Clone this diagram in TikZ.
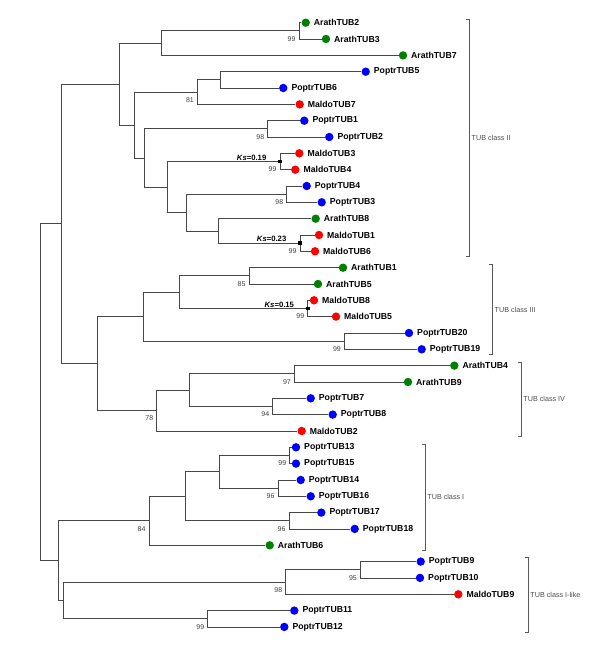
\documentclass[tikz,border=0pt]{standalone}
\usepackage{fontspec}
\setmainfont{Liberation Sans}
\definecolor{ag}{RGB}{0,128,0}
\definecolor{pb}{RGB}{0,0,255}
\definecolor{mr}{RGB}{255,0,0}
\tikzset{
 br/.style={draw=black!72, line width=0.8pt},
 dot/.style={circle, inner sep=0pt, minimum size=8.4pt, draw=none},
 lbl/.style={inner sep=0pt, anchor=west, font=\fontsize{8.7}{10}\selectfont\bfseries},
 bsl/.style={inner sep=0pt, anchor=east, text=black!75, font=\fontsize{7}{8}\selectfont},
 ksl/.style={inner sep=0pt, anchor=east, font=\fontsize{7.7}{9}\selectfont\bfseries},
 sq/.style={fill=black, inner sep=0pt, minimum size=3.6pt, draw=none},
 brk/.style={draw=black!65, line width=0.7pt},
 cls/.style={inner sep=0pt, anchor=west, text=black!70, font=\fontsize{7.2}{8}\selectfont},
}
\newcommand\leaf[4]{\node[dot,fill=#4] (#1) at (#2,#3) {}; \node[lbl] (#1-t) at ([xshift=3.6pt]#1.east) {#1};}
\newcommand\boot[2]{\node[bsl] (bs-#1) at ([xshift=-3.3pt,yshift=-8pt]#1) {#2};}
\newcommand\ks[2]{\node[ksl] (ks-#1) at ([xshift=-13.5pt,yshift=4pt]#1) {\textit{Ks}=#2}; \node[sq] (sq-#1) at (#1) {};}
\newcommand\clade[5]{\coordinate (#1-top) at (#2,#3); \coordinate (#1-bot) at (#2,#4);
 \draw[brk] ([xshift=-3.5pt]#1-top) -- (#1-top) -- (#1-bot) -- ([xshift=-3.5pt]#1-bot);
 \node[cls] (#1-lab) at ([xshift=2.2pt]$(#1-top)!0.5!(#1-bot)$) {#5};}
\usetikzlibrary{calc}
\begin{document}
\begin{tikzpicture}[x=1pt,y=-1pt]
\useasboundingbox (0,0) rectangle (600,650);
% internal nodes
\coordinate (root) at (40.7,392.2);
\coordinate (A) at (61.7,223.8);
\coordinate (B) at (58,560.6);
\coordinate (C) at (119.7,84.05);
\coordinate (D) at (97.7,363.6);
\coordinate (E) at (161,43.1);
\coordinate (F) at (134.7,125);
\coordinate (n23) at (299,30.85);
\coordinate (G) at (197.3,92.1);
\coordinate (I) at (220.3,79.85);
\coordinate (H) at (144.7,157.9);
\coordinate (J) at (267.7,128.85);
\coordinate (K) at (167.3,187);
\coordinate (k19) at (280,161.5);
\coordinate (L) at (186.7,212.5);
\coordinate (n43) at (286.7,194.15);
\coordinate (M) at (218.3,230.9);
\coordinate (k23) at (300,243.15);
\coordinate (N) at (143,316.65);
\coordinate (Q) at (179.7,292.15);
\coordinate (n15) at (249,275.85);
\coordinate (k15) at (307.7,308.45);
\coordinate (n2019) at (344.3,341.15);
\coordinate (O) at (156.7,410.55);
\coordinate (P) at (189,390.1);
\coordinate (n49) at (294.3,373.8);
\coordinate (n78) at (272.7,406.45);
\coordinate (R) at (149,520.8);
\coordinate (T) at (185,496.3);
\coordinate (U) at (219,471.8);
\coordinate (n1315) at (289.7,455.45);
\coordinate (n1416) at (278,488.15);
\coordinate (n1718) at (289,520.75);
\coordinate (S) at (63.7,600.4);
\coordinate (V) at (285.7,582);
\coordinate (n910) at (360.3,569.75);
\coordinate (W) at (207.7,618.75);
% leaves
\leaf{ArathTUB2}{305.7}{22.7}{ag}
\leaf{ArathTUB3}{326}{39.0}{ag}
\leaf{ArathTUB7}{403}{55.4}{ag}
\leaf{PoptrTUB5}{365.7}{71.7}{pb}
\leaf{PoptrTUB6}{283.3}{88.0}{pb}
\leaf{MaldoTUB7}{299.7}{104.4}{mr}
\leaf{PoptrTUB1}{304.3}{120.7}{pb}
\leaf{PoptrTUB2}{329.3}{137.0}{pb}
\leaf{MaldoTUB3}{299.3}{153.3}{mr}
\leaf{MaldoTUB4}{295.3}{169.7}{mr}
\leaf{PoptrTUB4}{306.7}{186.0}{pb}
\leaf{PoptrTUB3}{321.7}{202.3}{pb}
\leaf{ArathTUB8}{315.7}{218.7}{ag}
\leaf{MaldoTUB1}{319}{235.0}{mr}
\leaf{MaldoTUB6}{315}{251.3}{mr}
\leaf{ArathTUB1}{343}{267.7}{ag}
\leaf{ArathTUB5}{318}{284.0}{ag}
\leaf{MaldoTUB8}{314}{300.3}{mr}
\leaf{MaldoTUB5}{336}{316.6}{mr}
\leaf{PoptrTUB20}{409}{333.0}{pb}
\leaf{PoptrTUB19}{421.7}{349.3}{pb}
\leaf{ArathTUB4}{454.3}{365.6}{ag}
\leaf{ArathTUB9}{408}{382.0}{ag}
\leaf{PoptrTUB7}{310.7}{398.3}{pb}
\leaf{PoptrTUB8}{332.7}{414.6}{pb}
\leaf{MaldoTUB2}{301.7}{431.0}{mr}
\leaf{PoptrTUB13}{296}{447.3}{pb}
\leaf{PoptrTUB15}{296}{463.6}{pb}
\leaf{PoptrTUB14}{300.7}{480.0}{pb}
\leaf{PoptrTUB16}{310.7}{496.3}{pb}
\leaf{PoptrTUB17}{321.3}{512.6}{pb}
\leaf{PoptrTUB18}{354.7}{528.9}{pb}
\leaf{ArathTUB6}{269.7}{545.3}{ag}
\leaf{PoptrTUB9}{420.7}{561.6}{pb}
\leaf{PoptrTUB10}{420}{577.9}{pb}
\leaf{MaldoTUB9}{458.3}{594.3}{mr}
\leaf{PoptrTUB11}{294.3}{610.6}{pb}
\leaf{PoptrTUB12}{284.3}{626.9}{pb}
% branches
\foreach \p/\c in {root/A, root/B, A/C, A/D, C/E, C/F, E/n23, E/ArathTUB7,
  n23/ArathTUB2, n23/ArathTUB3, F/G, F/H, G/I, G/MaldoTUB7, I/PoptrTUB5, I/PoptrTUB6,
  H/J, H/K, J/PoptrTUB1, J/PoptrTUB2, K/k19, K/L, k19/MaldoTUB3, k19/MaldoTUB4,
  L/n43, L/M, n43/PoptrTUB4, n43/PoptrTUB3, M/ArathTUB8, M/k23, k23/MaldoTUB1, k23/MaldoTUB6,
  D/N, D/O, N/Q, N/n2019, Q/n15, Q/k15, n15/ArathTUB1, n15/ArathTUB5,
  k15/MaldoTUB8, k15/MaldoTUB5, n2019/PoptrTUB20, n2019/PoptrTUB19,
  O/P, O/MaldoTUB2, P/n49, P/n78, n49/ArathTUB4, n49/ArathTUB9, n78/PoptrTUB7, n78/PoptrTUB8,
  B/R, B/S, R/T, R/ArathTUB6, T/U, T/n1718, U/n1315, U/n1416,
  n1315/PoptrTUB13, n1315/PoptrTUB15, n1416/PoptrTUB14, n1416/PoptrTUB16,
  n1718/PoptrTUB17, n1718/PoptrTUB18, S/V, S/W, V/n910, V/MaldoTUB9,
  n910/PoptrTUB9, n910/PoptrTUB10, W/PoptrTUB11, W/PoptrTUB12}
  \draw[br] (\p) |- (\c);
% bootstrap values
\boot{n23}{99}
\boot{G}{81}
\boot{J}{98}
\boot{k19}{99}
\boot{n43}{98}
\boot{k23}{99}
\boot{n15}{85}
\boot{k15}{99}
\boot{n2019}{99}
\boot{n49}{97}
\boot{n78}{94}
\boot{O}{78}
\boot{n1315}{99}
\boot{n1416}{96}
\boot{n1718}{96}
\boot{R}{84}
\boot{n910}{95}
\boot{V}{98}
\boot{W}{99}
% Ks
\ks{k19}{0.19}
\ks{k23}{0.23}
\ks{k15}{0.15}
% clades
\clade{c2}{469.3}{19.3}{256.7}{TUB class II}
\clade{c3}{492.3}{264.7}{354.7}{TUB class III}
\clade{c4}{521}{362.7}{436}{TUB class IV}
\clade{c1}{425}{444}{550}{TUB class I}
\clade{c1l}{528}{557.7}{632.3}{TUB class I-like}
\end{tikzpicture}
\end{document}
